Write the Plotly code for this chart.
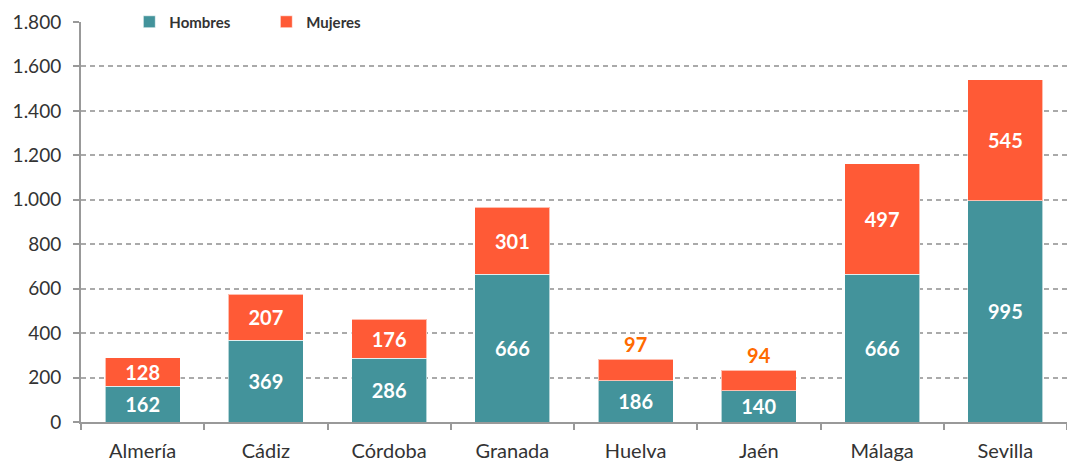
import plotly.graph_objects as go

provincias = ["Almería", "Cádiz", "Córdoba", "Granada", "Huelva", "Jaén", "Málaga", "Sevilla"]
hombres = [162, 369, 286, 666, 186, 140, 666, 995]
mujeres = [128, 207, 176, 301, 97, 94, 497, 545]
pos_mujeres = ["inside", "inside", "inside", "inside", "outside", "outside", "inside", "inside"]
col_mujeres = ["white", "white", "white", "white", "#FF6A00", "#FF6A00", "white", "white"]

TEAL = "#43939B"
ORANGE = "#FF5A36"
FONT = "Source Sans Pro, Lato, Noto Sans, sans-serif"

fig = go.Figure()
fig.add_bar(x=provincias, y=hombres, name="Hombres", marker_color=TEAL,
            marker_line=dict(color="rgba(255,255,255,0.6)", width=1),
            text=hombres, textposition="inside", insidetextanchor="middle",
            textfont=dict(color="white", size=20, family=FONT, weight="bold"),
            width=0.61, cliponaxis=False)
fig.add_bar(x=provincias, y=mujeres, name="Mujeres", marker_color=ORANGE,
            marker_line=dict(color="rgba(255,255,255,0.6)", width=1),
            text=mujeres, textposition=pos_mujeres, insidetextanchor="middle",
            textfont=dict(color=col_mujeres, size=20, family=FONT, weight="bold"),
            width=0.61, cliponaxis=False)

fig.update_layout(
    barmode="stack",
    width=1067, height=465,
    margin=dict(l=81, r=0, t=22, b=43, autoexpand=False),
    plot_bgcolor="white", paper_bgcolor="white",
    separators=",.",
    font=dict(family=FONT, color="#333333", size=19),
    uniformtext=dict(minsize=20, mode="show"),
    showlegend=True,
    legend=dict(orientation="h", x=0.049, y=1.0, xanchor="left", yanchor="middle",
                bgcolor="white", font=dict(size=15, weight="bold", color="#333333"),
                entrywidth=92, itemwidth=30, traceorder="normal"),
)
fig.update_yaxes(range=[0, 1800], dtick=200, tickformat=",d",
                 showgrid=True, gridcolor="#AAAAAA", griddash="5px,4px", gridwidth=1.5,
                 showline=True, linecolor="#999999", linewidth=2,
                 ticks="outside", ticklen=6, tickcolor="#999999", tickwidth=2,
                 ticklabelstandoff=8,
                 zeroline=False, tickfont=dict(size=19, color="#333333"))
fig.update_xaxes(showline=True, linecolor="#999999", linewidth=2,
                 ticks="outside", tickson="boundaries", ticklen=6, tickcolor="#999999", tickwidth=2,
                 ticklabelstandoff=10,
                 tickfont=dict(size=20, color="#333333"))

fig.write_html("out.html", config={"displayModeBar": False},
               post_script="document.body.style.margin='0';")
